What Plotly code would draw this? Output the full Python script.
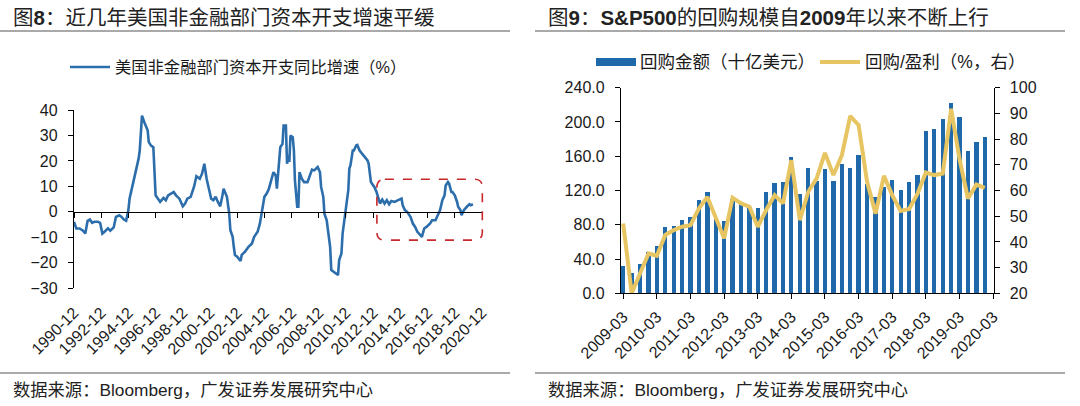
import plotly.graph_objects as go
import pandas as pd

# ---------------- Left chart data (图8) ----------------
capex_dates = [
    "1990-12", "1991-02", "1991-05", "1991-08", "1991-10", "1991-12", "1992-02", "1992-04", "1992-06", "1992-09",
    "1992-11", "1993-01", "1993-03", "1993-06", "1993-08", "1993-11", "1994-01", "1994-04", "1994-06", "1994-08",
    "1994-10", "1994-12", "1995-01", "1995-03", "1995-05", "1995-07", "1995-09", "1995-10", "1995-11", "1995-12",
    "1996-02", "1996-03", "1996-05", "1996-06", "1996-08", "1996-10", "1996-12", "1997-02", "1997-04", "1997-07",
    "1997-09", "1997-11", "1998-02", "1998-04", "1998-06", "1998-09", "1998-12", "1999-02", "1999-04", "1999-07",
    "1999-10", "1999-12", "2000-03", "2000-05", "2000-07", "2000-09", "2000-11", "2001-01", "2001-03", "2001-05",
    "2001-07", "2001-09", "2001-11", "2001-12", "2002-03", "2002-05", "2002-06", "2002-08", "2002-09", "2002-10",
    "2002-12", "2003-03", "2003-04", "2003-07", "2003-10", "2004-01", "2004-03", "2004-06", "2004-08", "2004-10",
    "2004-12", "2005-02", "2005-04", "2005-06", "2005-08", "2005-10", "2005-11", "2006-02", "2006-04", "2006-05",
    "2006-07", "2006-08", "2006-09", "2006-10", "2006-11", "2007-01", "2007-02", "2007-03", "2007-05", "2007-06",
    "2007-07", "2007-09", "2007-11", "2008-02", "2008-04", "2008-06", "2008-08", "2008-11", "2009-01", "2009-02",
    "2009-04", "2009-05", "2009-07", "2009-09", "2009-10", "2009-11", "2010-01", "2010-03", "2010-05", "2010-06",
    "2010-08", "2010-09", "2010-11", "2011-01", "2011-02", "2011-03", "2011-04", "2011-06", "2011-07", "2011-09",
    "2011-10", "2011-12", "2012-01", "2012-04", "2012-07", "2012-08", "2012-10", "2012-12", "2013-01", "2013-03",
    "2013-05", "2013-06", "2013-08", "2013-10", "2013-12", "2014-02", "2014-04", "2014-07", "2014-10", "2015-01",
    "2015-02", "2015-04", "2015-06", "2015-09", "2015-11", "2016-01", "2016-03", "2016-06", "2016-07", "2016-09",
    "2016-11", "2017-02", "2017-04", "2017-07", "2017-09", "2017-11", "2018-01", "2018-03", "2018-04", "2018-06",
    "2018-07", "2018-09", "2018-10", "2018-12", "2019-02", "2019-03", "2019-05", "2019-06", "2019-08", "2019-09",
    "2019-11", "2020-01", "2020-02", "2020-04",
]
capex_yoy = [
    -3.9, -6.5, -6.5, -7.4, -8.5, -3.5, -3.0, -4.3, -3.9, -3.9,
    -4.3, -8.5, -7.8, -6.5, -7.4, -6.1, -2.0, -1.3, -2.0, -3.0,
    -3.5, 0.7, 5.2, 9.1, 12.4, 17.0, 20.9, 24.0, 30.6, 37.8,
    35.2, 33.9, 32.0, 27.4, 26.0, 25.4, 6.5, 5.2, 3.9, 5.5,
    4.6, 6.5, 7.2, 7.8, 6.5, 5.2, 2.2, 3.3, 5.2, 5.9,
    10.0, 14.0, 13.0, 15.0, 18.9, 13.0, 9.1, 5.2, 4.6, 5.9,
    3.9, 2.2, 6.5, 9.1, 5.9, -0.7, -7.2, -9.8, -13.7, -16.9,
    -17.6, -19.3, -16.9, -15.6, -13.7, -12.4, -9.8, -7.8, -4.6, 0.0,
    5.9, 7.2, 9.1, 12.4, 15.6, 14.3, 9.1, 25.4, 26.7, 33.9,
    33.9, 18.9, 22.2, 19.6, 30.0, 29.3, 24.1, 12.4, 2.0, 2.0,
    15.6, 13.0, 11.7, 11.7, 14.3, 16.6, 16.3, 17.6, 15.6, 9.8,
    5.9, -0.7, -3.3, -11.1, -13.7, -22.8, -23.5, -24.1, -24.8, -18.9,
    -16.3, -8.5, -0.7, 6.5, 8.5, 17.0, 18.3, 24.1, 24.1, 26.1,
    26.3, 24.1, 23.5, 22.2, 20.2, 18.9, 11.7, 10.4, 9.8, 7.8,
    4.6, 3.3, 4.8, 3.3, 4.6, 3.0, 4.3, 3.9, 4.6, 5.2,
    2.6, 0.7, 0.0, -2.0, -4.6, -5.9, -7.8, -9.1, -9.8, -6.5,
    -5.9, -4.6, -3.3, -3.3, -1.3, 0.7, 4.6, 6.5, 10.4, 11.7,
    11.1, 7.8, 7.8, 6.5, 3.9, 2.0, 0.7, -1.3, 0.7, 1.3,
    2.2, 3.0, 2.6, 3.0,
]
capex_ticks = ["1990-12", "1992-12", "1994-12", "1996-12", "1998-12", "2000-12", "2002-12", "2004-12",
               "2006-12", "2008-12", "2010-12", "2012-12", "2014-12", "2016-12", "2018-12", "2020-12"]
capex_yticks = [-30, -20, -10, 0, 10, 20, 30, 40]
# highlighted region (dashed box)
box_x = ["2013-03-10", "2020-12-10"]
box_y = [-11.1, 12.8]

# ---------------- Right chart data (图9) ----------------
buyback_quarters = [
    "2009-03", "2009-06", "2009-09", "2009-12", "2010-03", "2010-06", "2010-09", "2010-12",
    "2011-03", "2011-06", "2011-09", "2011-12", "2012-03", "2012-06", "2012-09", "2012-12",
    "2013-03", "2013-06", "2013-09", "2013-12", "2014-03", "2014-06", "2014-09", "2014-12",
    "2015-03", "2015-06", "2015-09", "2015-12", "2016-03", "2016-06", "2016-09", "2016-12",
    "2017-03", "2017-06", "2017-09", "2017-12", "2018-03", "2018-06", "2018-09", "2018-12",
    "2019-03", "2019-06", "2019-09", "2019-12",
]
buyback_amount = [
    32.0, 24.5, 35.0, 48.5, 55.5, 78.0, 79.0, 86.0,
    89.7, 109.0, 118.4, 87.4, 84.3, 110.0, 106.0, 101.0,
    100.0, 118.4, 129.0, 130.0, 160.0, 116.5, 146.4, 132.0,
    144.9, 132.0, 151.5, 146.4, 162.0, 128.0, 112.6, 125.0,
    133.0, 121.0, 130.0, 138.0, 189.5, 192.0, 204.0, 223.0,
    206.6, 166.6, 176.7, 182.5,
]
buyback_to_earnings = [
    47.2, 20.0, 27.8, 35.5, 34.6, 42.7, 44.6, 45.9,
    46.5, 53.0, 57.5, 49.4, 41.4, 57.2, 55.0, 53.7,
    45.9, 52.4, 58.2, 55.0, 71.8, 48.5, 59.5, 64.7,
    74.6, 66.0, 73.7, 89.0, 85.4, 63.4, 51.0, 65.7,
    58.2, 52.0, 52.8, 58.8, 67.0, 66.0, 66.6, 91.8,
    72.4, 56.9, 62.3, 61.0,
]
buyback_ticks = ["2009-03", "2010-03", "2011-03", "2012-03", "2013-03", "2014-03",
                 "2015-03", "2016-03", "2017-03", "2018-03", "2019-03", "2020-03"]

# ---------------- styling ----------------
W, H = 1080, 406
FONT = "Liberation Sans, Arial, Noto Sans CJK SC, sans-serif"
BLUE_LINE = "#2C6EAB"
BAR_BLUE = "#1F68AA"
GOLD = "#E7C562"
RED = "#C8282B"
GREY = "#8C8C8C"
TXT = "#1A1A1A"


def px(x):
    return x / W


def py(y):
    return 1 - y / H


# plot areas in pixels
L_X0, L_X1 = 74, 482
L_YTOP, L_YBOT = 110, 288.3
R_X0, R_X1 = 621, 993.5
R_YTOP, R_YBOT = 87.7, 293.3

left_xdom = [px(L_X0), px(L_X1)]
left_ydom = [py(L_YBOT), py(L_YTOP)]
right_xdom = [px(R_X0), px(R_X1)]
right_ydom = [py(R_YBOT), py(R_YTOP)]

left_xrange = ["1990-12-01", "2020-12-01"]
left_yrange = [-30, 40]
zero_pos = left_ydom[0] + (0 - left_yrange[0]) / (left_yrange[1] - left_yrange[0]) * (left_ydom[1] - left_ydom[0])

fig = go.Figure()

fig.add_trace(go.Scatter(
    x=capex_dates, y=capex_yoy, mode="lines", xaxis="x", yaxis="y",
    line=dict(color=BLUE_LINE, width=2.6), showlegend=False, hoverinfo="x+y"))
# carrier trace for the zero-line axis (no visible data)
fig.add_trace(go.Scatter(
    x=[capex_dates[0]], y=[None], mode="lines", xaxis="x3", yaxis="y",
    showlegend=False, hoverinfo="skip"))

bar_width_ms = 47 * 24 * 3600 * 1000
fig.add_trace(go.Bar(
    x=buyback_quarters, y=buyback_amount, xaxis="x2", yaxis="y2",
    marker=dict(color=BAR_BLUE, line=dict(width=0)), width=bar_width_ms, showlegend=False))
fig.add_trace(go.Scatter(
    x=buyback_quarters, y=buyback_to_earnings, mode="lines", xaxis="x2", yaxis="y3",
    line=dict(color=GOLD, width=4), showlegend=False))

tickfont = dict(family=FONT, size=16, color=TXT)
axis_common = dict(showgrid=False, zeroline=False, linecolor="#000000", linewidth=1.3,
                   tickcolor="#000000", tickwidth=1.3, ticklen=5, tickfont=tickfont,
                   automargin=False)

fig.update_layout(
    width=W, height=H, margin=dict(l=0, r=0, t=0, b=0, autoexpand=False),
    paper_bgcolor="white", plot_bgcolor="white", showlegend=False,
    font=dict(family=FONT, color=TXT),
    xaxis=dict(domain=left_xdom, type="date", range=left_xrange, anchor="y",
               tickvals=capex_ticks, ticktext=capex_ticks, tickangle=-45,
               showline=False, ticks="", ticklabelstandoff=11, **axis_common),
    xaxis3=dict(domain=left_xdom, type="date", range=left_xrange, overlaying="x",
                anchor="free", position=zero_pos, showline=True, ticks="outside",
                tickvals=capex_ticks, showticklabels=False, **axis_common),
    yaxis=dict(domain=left_ydom, range=left_yrange, anchor="x", tickvals=capex_yticks,
               showline=True, ticks="outside", ticklabelstandoff=7, **axis_common),
    xaxis2=dict(domain=right_xdom, type="date", range=["2009-02-05", "2020-03-05"], anchor="y2",
                tickvals=buyback_ticks, ticktext=buyback_ticks, tickangle=-45,
                showline=True, ticks="outside", ticklabelstandoff=2, **axis_common),
    yaxis2=dict(domain=right_ydom, range=[0, 240], dtick=40, tickformat=".1f", anchor="x2",
                showline=True, ticks="outside", ticklabelstandoff=7, **axis_common),
    yaxis3=dict(range=[20, 100], dtick=10, overlaying="y2", side="right", anchor="x2",
                showline=True, ticks="outside", ticklabelstandoff=7, **axis_common),
    bargap=0,
)

shapes = []
# panel separator lines
for (x0, x1) in [(0, 510), (535, 1065)]:
    for yy in (31, 373):
        shapes.append(dict(type="line", xref="paper", yref="paper", x0=px(x0), x1=px(x1),
                           y0=py(yy), y1=py(yy), line=dict(color=GREY, width=1.6)))

# legend samples
shapes.append(dict(type="line", xref="paper", yref="paper", x0=px(70), x1=px(110),
                   y0=py(67), y1=py(67), line=dict(color=BLUE_LINE, width=2.6)))
shapes.append(dict(type="rect", xref="paper", yref="paper", x0=px(596), x1=px(636),
                   y0=py(66), y1=py(58), fillcolor=BAR_BLUE, line=dict(width=0)))
shapes.append(dict(type="line", xref="paper", yref="paper", x0=px(820), x1=px(860),
                   y0=py(62), y1=py(62), line=dict(color=GOLD, width=4)))

# dashed rounded box in the left chart (convert data -> paper)
t0, t1 = pd.Timestamp(left_xrange[0]), pd.Timestamp(left_xrange[1])


def date_to_paper(d):
    f = (pd.Timestamp(d) - t0) / (t1 - t0)
    return left_xdom[0] + f * (left_xdom[1] - left_xdom[0])


def val_to_paper(v):
    f = (v - left_yrange[0]) / (left_yrange[1] - left_yrange[0])
    return left_ydom[0] + f * (left_ydom[1] - left_ydom[0])


bx0, bx1 = date_to_paper(box_x[0]), date_to_paper(box_x[1])
by0, by1 = val_to_paper(box_y[0]), val_to_paper(box_y[1])
rx, ry = 8 / W, 8 / H
box_path = (f"M {bx0 + rx},{by1} L {bx1 - rx},{by1} Q {bx1},{by1} {bx1},{by1 - ry} "
            f"L {bx1},{by0 + ry} Q {bx1},{by0} {bx1 - rx},{by0} "
            f"L {bx0 + rx},{by0} Q {bx0},{by0} {bx0},{by0 + ry} "
            f"L {bx0},{by1 - ry} Q {bx0},{by1} {bx0 + rx},{by1} Z")
shapes.append(dict(type="path", xref="paper", yref="paper", path=box_path,
                   line=dict(color=RED, width=1.6, dash="dash")))

fig.update_layout(shapes=shapes)

ann = []
title_font = dict(family=FONT, size=20.5, color="#222222")
ann.append(dict(text="图<b>8</b>：近几年美国非金融部门资本开支增速平缓", x=px(11), y=py(17),
                xref="paper", yref="paper", xanchor="left", yanchor="middle",
                showarrow=False, font=title_font))
ann.append(dict(text="图<b>9</b>：<b>S&P500</b>的回购规模自<b>2009</b>年以来不断上行", x=px(546), y=py(17),
                xref="paper", yref="paper", xanchor="left", yanchor="middle",
                showarrow=False, font=title_font))
ann.append(dict(text="美国非金融部门资本开支同比增速（%）", x=px(113), y=py(67),
                xref="paper", yref="paper", xanchor="left", yanchor="middle",
                showarrow=False, font=dict(family=FONT, size=16.3, color=TXT)))
leg_font_r = dict(family=FONT, size=17.5, color=TXT)
ann.append(dict(text="回购金额（十亿美元）", x=px(638), y=py(62),
                xref="paper", yref="paper", xanchor="left", yanchor="middle",
                showarrow=False, font=leg_font_r))
ann.append(dict(text="回购/盈利（%，右）", x=px(863), y=py(62),
                xref="paper", yref="paper", xanchor="left", yanchor="middle",
                showarrow=False, font=leg_font_r))
src_font = dict(family=FONT, size=17.3, color="#222222")
for x0 in (11, 546):
    ann.append(dict(text="数据来源：Bloomberg，广发证券发展研究中心", x=px(x0), y=py(390),
                    xref="paper", yref="paper", xanchor="left", yanchor="middle",
                    showarrow=False, font=src_font))
fig.update_layout(annotations=ann)

fig.write_html("out.html", config={"displayModeBar": False},
               post_script="document.body.style.margin='0';document.body.style.overflow='hidden';")
